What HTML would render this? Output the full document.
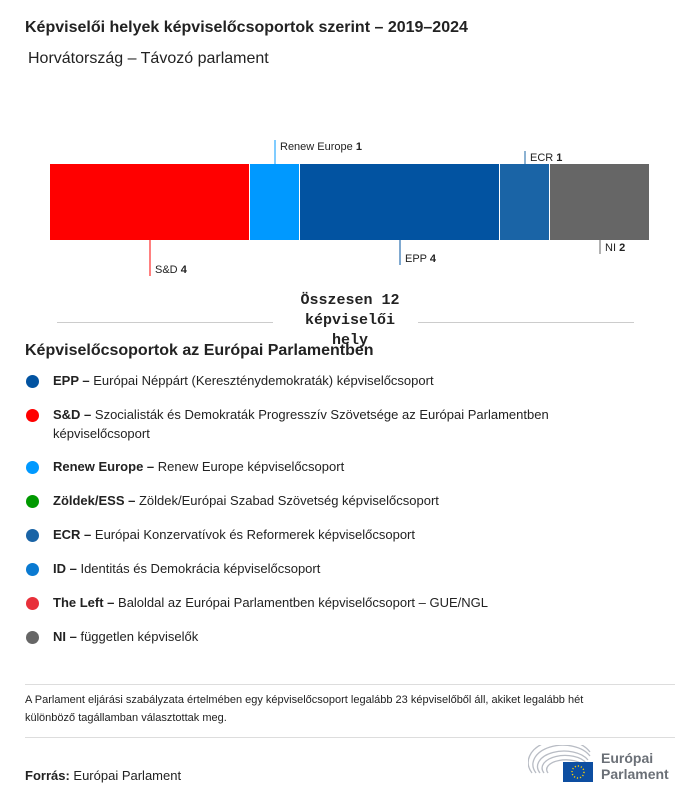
<!DOCTYPE html>
<html><head><meta charset="utf-8">
<style>
body{margin:0;width:700px;height:802px;background:#fff;font-family:"Liberation Sans",sans-serif;color:#222;position:relative;overflow:hidden}
.a{position:absolute;white-space:nowrap}
.dot{position:absolute;left:26px;width:13px;height:13px;border-radius:50%}
.lt{position:absolute;left:53px;font-size:13px;line-height:19px;color:#222}
.hr{position:absolute;height:1px;background:#ccc}
</style></head><body>
<div class="a" style="left:25px;top:19px;font-size:16px;font-weight:bold">Képviselői helyek képviselőcsoportok szerint – 2019–2024</div>
<div class="a" style="left:28px;top:50px;font-size:16px">Horvátország – Távozó parlament</div>
<svg id="chart" width="700" height="290" style="position:absolute;left:0;top:0"></svg>
<div class="hr" style="left:57px;top:322px;width:216px"></div>
<div class="hr" style="left:418px;top:322px;width:216px"></div>
<div class="a" style="left:290px;top:291px;width:120px;text-align:center;font-family:'Liberation Mono',monospace;font-weight:bold;font-size:15px;line-height:20px;white-space:normal">Összesen 12 képviselői hely</div>
<div class="a" style="left:25px;top:342px;font-size:16px;font-weight:bold">Képviselőcsoportok az Európai Parlamentben</div>
<div>
<div class="dot" style="top:375px;background:#0253a1"></div><div class="lt" style="top:371px"><b>EPP –</b> Európai Néppárt (Kereszténydemokraták) képviselőcsoport</div>
<div class="dot" style="top:409px;background:#ff0000"></div><div class="lt" style="top:405px"><b>S&amp;D –</b> Szocialisták és Demokraták Progresszív Szövetsége az Európai Parlamentben<br>képviselőcsoport</div>
<div class="dot" style="top:461px;background:#0099ff"></div><div class="lt" style="top:457px"><b>Renew Europe –</b> Renew Europe képviselőcsoport</div>
<div class="dot" style="top:495px;background:#009900"></div><div class="lt" style="top:491px"><b>Zöldek/ESS –</b> Zöldek/Európai Szabad Szövetség képviselőcsoport</div>
<div class="dot" style="top:529px;background:#1a64a6"></div><div class="lt" style="top:525px"><b>ECR –</b> Európai Konzervatívok és Reformerek képviselőcsoport</div>
<div class="dot" style="top:563px;background:#0a7ad1"></div><div class="lt" style="top:559px"><b>ID –</b> Identitás és Demokrácia képviselőcsoport</div>
<div class="dot" style="top:597px;background:#e8303a"></div><div class="lt" style="top:593px"><b>The Left –</b> Baloldal az Európai Parlamentben képviselőcsoport – GUE/NGL</div>
<div class="dot" style="top:631px;background:#666"></div><div class="lt" style="top:627px"><b>NI –</b> független képviselők</div>
</div>
<div class="hr" style="left:25px;top:684px;width:650px;background:#ddd"></div>
<div class="a" style="left:25px;top:691px;font-size:11px;line-height:18px;white-space:normal;width:600px">A Parlament eljárási szabályzata értelmében egy képviselőcsoport legalább 23 képviselőből áll, akiket legalább hét különböző tagállamban választottak meg.</div>
<div class="hr" style="left:25px;top:737px;width:650px;background:#ddd"></div>
<div class="a" style="left:25px;top:768px;font-size:13px"><b>Forrás:</b> Európai Parlament</div>
<svg width="150" height="40" style="position:absolute;left:528px;top:745px">
<g fill="none" stroke="#b8bcc4" stroke-width="1.3">
<path d="M4 28 A32 22 0 0 1 62 7"/><path d="M8 28 A28 18 0 0 1 62 11"/><path d="M12 28 A24 14 0 0 1 60 15"/><path d="M16 28 A20 11 0 0 1 58 18"/><path d="M20 28 A16 8 0 0 1 56 21"/>
</g>
<rect x="35" y="17" width="30" height="20" fill="#0d4ea1"/>
<circle cx="50" cy="27" r="6" fill="none" stroke="#ffd200" stroke-width="1.4" stroke-dasharray="1.2 1.9"/>
<text x="73" y="18" font-family="Liberation Sans,sans-serif" font-weight="bold" font-size="14" fill="#6b7077">Európai</text>
<text x="73" y="34" font-family="Liberation Sans,sans-serif" font-weight="bold" font-size="14" fill="#6b7077">Parlament</text>
</svg>
<script>
const groups=["S&D","Renew Europe","EPP","ECR","NI"];
const seats=[4,1,4,1,2];
const colors=["#ff0000","#0099ff","#0253a1","#1a64a6","#666666"];
const labelSide=["below","above","below","above","below"];
const labelLen=[36,24,25,13,14];
const svg=document.getElementById('chart');
const NS="http://www.w3.org/2000/svg";
const total=seats.reduce((a,b)=>a+b,0);
const x0=50,x1=650,yTop=164,yBot=240;
const xs=v=>x0+(x1-x0)*v/total;
let cum=0;
seats.forEach((s,i)=>{
  const a=xs(cum),b=xs(cum+s);cum+=s;
  const r=document.createElementNS(NS,'rect');
  r.setAttribute('x',a);r.setAttribute('y',yTop);r.setAttribute('width',Math.max(0,b-a-1));r.setAttribute('height',yBot-yTop);r.setAttribute('fill',colors[i]);
  
  
  svg.appendChild(r);
  const m=(a+b)/2, L=labelLen[i];
  const ln=document.createElementNS(NS,'line');
  const y1=labelSide[i]=="above"?yTop:yBot, y2=labelSide[i]=="above"?yTop-L:yBot+L;
  ln.setAttribute('x1',m);ln.setAttribute('x2',m);ln.setAttribute('y1',y1);ln.setAttribute('y2',y2);ln.setAttribute('stroke',colors[i]);
  
  
  svg.appendChild(ln);
  const t=document.createElementNS(NS,'text');
  t.setAttribute('x',m+5);t.setAttribute('y',labelSide[i]=="above"?yTop-L+10:yBot+L-3);
  t.setAttribute('font-size','11');t.setAttribute('font-family','Liberation Sans,sans-serif');t.setAttribute('fill','#222');
  t.innerHTML=groups[i].replace('&','&amp;')+' <tspan font-weight="bold">'+s+'</tspan>';
  
  
  svg.appendChild(t);
});
</script>
</body></html>
